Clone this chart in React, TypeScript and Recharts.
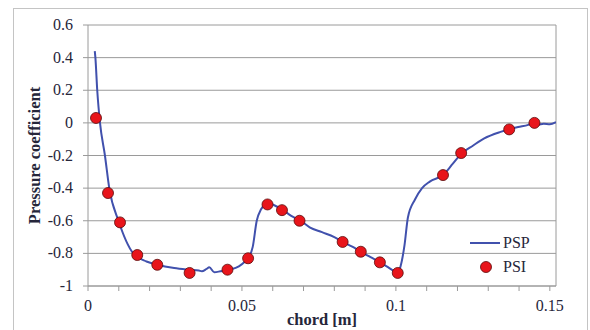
import React from 'react'
import {
  ComposedChart, Line, Scatter, XAxis, YAxis, CartesianGrid, ReferenceLine, Label,
} from 'recharts'

// PSP: continuous pressure-sensitive-paint trace along the chord
const pspChord = [
  0.0022, 0.0024, 0.003, 0.0039, 0.0055, 0.0069, 0.0099, 0.0147, 0.019, 0.0225,
  0.028, 0.033, 0.036, 0.037, 0.0385, 0.0394, 0.041, 0.043, 0.046, 0.049,
  0.051, 0.052, 0.0535, 0.0548, 0.0562, 0.0575, 0.0585, 0.0605, 0.063, 0.066,
  0.069, 0.072, 0.076, 0.08, 0.0827, 0.086, 0.0886, 0.0915, 0.0948, 0.097,
  0.0995, 0.1005, 0.1015, 0.1028, 0.1039, 0.1062, 0.1085, 0.111, 0.1153, 0.1185,
  0.1212, 0.125, 0.1287, 0.134, 0.1397, 0.143, 0.1445, 0.146, 0.148, 0.15, 0.152,
]
const pspCp = [
  0.44, 0.4, 0.2, 0.0, -0.2, -0.4, -0.6, -0.8, -0.85, -0.87,
  -0.89, -0.9, -0.905, -0.91, -0.895, -0.885, -0.915, -0.91, -0.9, -0.88,
  -0.85, -0.83, -0.76, -0.6, -0.53, -0.5, -0.49, -0.505, -0.53, -0.57,
  -0.6, -0.64, -0.67, -0.7, -0.73, -0.76, -0.79, -0.82, -0.855, -0.88,
  -0.91, -0.92, -0.88, -0.75, -0.58, -0.47, -0.4, -0.36, -0.32, -0.25,
  -0.19, -0.14, -0.095, -0.055, -0.025, -0.012, 0.0, -0.012, -0.005, -0.008, 0.005,
]

// PSI: discrete pressure-scanner taps
const psiChord = [
  0.0026, 0.0065, 0.0104, 0.016, 0.0225, 0.033, 0.0453, 0.052, 0.0583, 0.063,
  0.0687, 0.0827, 0.0886, 0.0948, 0.1006, 0.1153, 0.1212, 0.1368, 0.145,
]
const psiCp = [
  0.03, -0.43, -0.61, -0.81, -0.87, -0.92, -0.9, -0.83, -0.5, -0.535,
  -0.6, -0.73, -0.79, -0.855, -0.92, -0.32, -0.185, -0.04, 0.0,
]

const xTicks = [0, 0.01, 0.02, 0.03, 0.04, 0.05, 0.06, 0.07, 0.08, 0.09, 0.1, 0.11, 0.12, 0.13, 0.14, 0.15]
const yTicks = [-1, -0.8, -0.6, -0.4, -0.2, 0, 0.2, 0.4, 0.6]

const pspData = pspChord.map((x, i) => ({ x, cp: pspCp[i] }))
const psiData = psiChord.map((x, i) => ({ x, cp: psiCp[i] }))

const FONT = 'Liberation Serif'
const TEXT = '#26263a'
const GRID = '#9a9a9a'
const LINE = '#4151ad'
const DOT = '#e8151b'

// only every fifth minor tick gets a label
const fmtX = (v: number) => (Math.round(v * 100) % 5 === 0 ? String(v) : '')

const XTick = (props: any) => {
  const { x, y, payload } = props
  const s = fmtX(payload.value)
  if (!s) return null
  return (
    <text x={x} y={y + 16} textAnchor="middle" fontFamily={FONT} fontSize={16} fill={TEXT}>{s}</text>
  )
}

const YTick = (props: any) => {
  const { x, y, payload } = props
  return (
    <text x={x} y={y + 5} textAnchor="end" fontFamily={FONT} fontSize={16} fill={TEXT}>{String(payload.value)}</text>
  )
}

const Dot = (props: any) => {
  const { cx, cy } = props
  return <circle cx={cx} cy={cy} r={5.5} fill={DOT} stroke="#5a0a0a" strokeWidth={0.8} />
}

// legend sits inside the plot, lower right
const LegendBox = () => (
  <svg width={80} height={50} style={{ position: 'absolute', left: 465, top: 230 }}>
    <line x1={5} y1={13} x2={35} y2={13} stroke={LINE} strokeWidth={2} />
    <text x={38} y={18} fontFamily={FONT} fontSize={16} fill={TEXT}>PSP</text>
    <circle cx={21} cy={37} r={5.5} fill={DOT} stroke="#5a0a0a" strokeWidth={0.8} />
    <text x={38} y={42} fontFamily={FONT} fontSize={16} fill={TEXT}>PSI</text>
  </svg>
)

export default function App() {
  return (
    <div style={{ position: 'absolute', left: 0, top: 0, width: 590, height: 330, background: '#fff', fontFamily: FONT }}>
      <div style={{ position: 'absolute', left: 13, top: 8, width: 575, height: 330, border: '1px solid #c4c4c4', boxSizing: 'border-box' }} />
      <ComposedChart
        width={590}
        height={330}
        margin={{ top: 25, right: 34, bottom: 14, left: 28 }}
        style={{ position: 'absolute', left: 0, top: 0 }}
      >
        <CartesianGrid horizontal vertical={false} stroke={GRID} strokeWidth={1} />
        <XAxis
          type="number"
          dataKey="x"
          domain={[0, 0.152]}
          ticks={xTicks}
          interval={0}
          allowDataOverflow
          height={30}
          stroke={GRID}
          tickSize={5}
          tickMargin={4}
          tick={<XTick />}
        >
          <Label value="chord [m]" position="bottom" offset={-3} style={{ fontSize: 16.5, fontWeight: 'bold', fill: TEXT, fontFamily: FONT }} />
        </XAxis>
        <YAxis
          type="number"
          dataKey="cp"
          domain={[-1, 0.6]}
          ticks={yTicks}
          interval={0}
          allowDataOverflow
          width={60}
          stroke={GRID}
          tickSize={5}
          tickMargin={10}
          tick={<YTick />}
        >
          <Label value="Pressure coefficient" angle={-90} position="insideLeft" offset={6} style={{ fontSize: 16.5, fontWeight: 'bold', fill: TEXT, fontFamily: FONT, textAnchor: 'middle' }} />
        </YAxis>
        <ReferenceLine x={0.152} stroke={GRID} />
        <Line
          data={pspData}
          dataKey="cp"
          name="PSP"
          type="monotone"
          stroke={LINE}
          strokeWidth={2}
          dot={false}
          isAnimationActive={false}
        />
        <Scatter
          data={psiData}
          dataKey="cp"
          name="PSI"
          shape={<Dot />}
          isAnimationActive={false}
        />
      </ComposedChart>
      <LegendBox />
    </div>
  )
}
